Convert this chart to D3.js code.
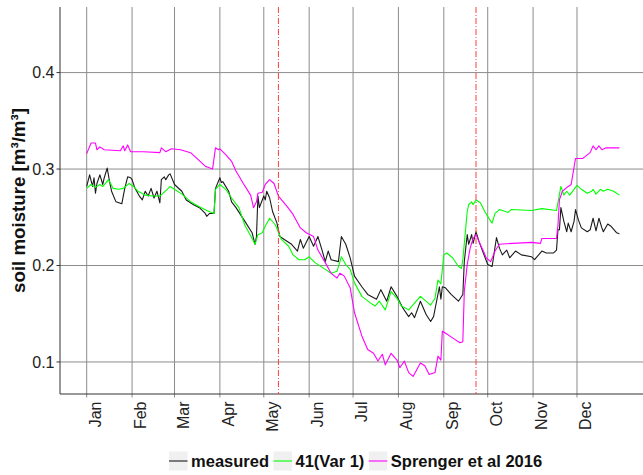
<!DOCTYPE html>
<html>
<head>
<meta charset="utf-8">
<script src="https://cdn.jsdelivr.net/npm/d3@7"></script>
<style>
    body { margin: 0; background: #fff; }
    svg { display: block; font-family: "Liberation Sans", Arial, sans-serif; }
    .grid line { stroke: #8c8c8c; stroke-width: 1; }
    .axis-line { stroke: #333; stroke-width: 1; }
    .tick-label { font-size: 16px; fill: #222; }
    .series { fill: none; stroke-width: 1.1; stroke-linejoin: round; }
    .marker { stroke: #ff3d3d; stroke-width: 1; stroke-dasharray: 6,2,1,2; }
    .legend text { font-size: 16.5px; font-weight: bold; fill: #111; }
</style>
</head>
<body>
<div id="chart"></div>
<script>
// labels / ticks
const monthLabels = ["Jan", "Feb", "Mar", "Apr", "May", "Jun", "Jul", "Aug", "Sep", "Oct", "Nov", "Dec"];
const yTicks = [0.1, 0.2, 0.3, 0.4];
const markerDates = ["2016-05-11", "2016-09-23"];
const seriesNames = ["measured", "41(Var 1)", "Sprenger et al 2016"];
const seriesColors = ["#1a1a1a", "#00ff00", "#ff00ff"];

// day of year (2016) + soil moisture
const measuredDays = [1,3,5,6,7,8,10,12,13,15, 17,18,21,25,27,29,31,32,34,37, 39,41,43,45,47,49,51,52,54,55,
    57,58,61,66,69,74,78,82,83,85, 88,89,92,93,94,98,100,103,109,114, 116,117,118,119,122,123,124,126,128,131,
    133,136,141,145,147,149,153,156,159,162, 164,166,168,173,175,178,181,184,189,193, 199,202,206,209,213,217,221,223,225,229,
    233,236,238,242,243,244,246,250,255,258, 259,261,262,264,265,267,269,272,275,278, 281,283,285,288,290,294,298,305,307,312,
    315,320,322,323,324,325,327,329,330,332, 334,335,337,339,343,345,347,349,351,353, 354,357,359,363,365];
const measured = [0.282,0.294,0.282,0.291,0.275,0.285,0.294,0.284,0.291,0.301, 0.284,0.277,0.266,0.264,0.280,0.292,0.291,0.289,0.280,0.272,
    0.268,0.277,0.272,0.280,0.270,0.277,0.265,0.289,0.292,0.289, 0.294,0.295,0.284,0.277,0.268,0.263,0.260,0.254,0.251,0.254,
    0.254,0.280,0.291,0.286,0.287,0.277,0.266,0.260,0.246,0.234, 0.222,0.230,0.272,0.260,0.272,0.268,0.277,0.270,0.256,0.244,
    0.230,0.227,0.222,0.215,0.227,0.218,0.230,0.220,0.230,0.215, 0.204,0.215,0.206,0.204,0.230,0.222,0.208,0.189,0.178,0.170,
    0.165,0.175,0.163,0.178,0.168,0.156,0.147,0.151,0.146,0.163, 0.149,0.142,0.147,0.178,0.165,0.178,0.177,0.170,0.163,0.170,
    0.204,0.232,0.222,0.232,0.223,0.235,0.225,0.213,0.201,0.199, 0.229,0.218,0.211,0.216,0.208,0.215,0.211,0.209,0.206,0.215,
    0.213,0.213,0.216,0.237,0.237,0.260,0.246,0.235,0.244,0.235, 0.246,0.258,0.247,0.239,0.235,0.237,0.249,0.236,0.249,0.239,
    0.235,0.243,0.241,0.234,0.233];

const var1Days = [1,4,7,10,12,16,19,23,26,30, 33,36,41,46,51,56,58,61,67,72, 78,83,88,89,92,96,100,105,109,114,
    116,118,121,123,126,130,134,139,142,146, 150,153,157,163,168,172,175,178,181,184, 189,195,198,201,205,209,213,216,221,229,
    236,239,241,243,245,247,251,255,257,258, 261,262,264,265,267,270,273,277,278,280, 283,289,291,305,312,322,325,327,329,331,
    336,339,343,346,347,349,352,354,357,361, 365];
const var1 = [0.280,0.284,0.281,0.284,0.282,0.289,0.280,0.279,0.280,0.285, 0.282,0.277,0.273,0.272,0.272,0.279,0.282,0.279,0.273,0.266,
    0.261,0.257,0.254,0.279,0.284,0.279,0.270,0.260,0.242,0.228, 0.222,0.232,0.234,0.241,0.249,0.242,0.227,0.220,0.211,0.206,
    0.206,0.209,0.203,0.197,0.192,0.194,0.209,0.201,0.196,0.182, 0.168,0.161,0.158,0.163,0.154,0.173,0.166,0.158,0.154,0.168,
    0.159,0.166,0.185,0.181,0.211,0.213,0.208,0.199,0.197,0.206, 0.256,0.263,0.266,0.263,0.268,0.265,0.256,0.246,0.244,0.254,
    0.258,0.255,0.258,0.257,0.259,0.257,0.282,0.273,0.277,0.273, 0.283,0.279,0.275,0.277,0.279,0.274,0.279,0.277,0.279,0.277,
    0.273];

const sprengerDays = [1,4,7,8,10,13,24,26,27,29, 31,40,51,52,55,59,65,72,77,82, 87,89,91,92,96,100,103,108,113,115,
    117,118,121,123,126,129,132,138,142,147, 151,156,159,164,168,172,174,177,181,184, 189,193,197,200,203,205,209,213,215,218,
    221,224,229,232,235,239,241,243,244,246, 251,256,258,259,261,263,265,267,269,272, 274,277,280,283,292,305,311,312,322,323,
    324,326,330,332,335,340,345,347,349,351, 353,356,365];
const sprenger = [0.316,0.327,0.327,0.320,0.323,0.320,0.319,0.324,0.319,0.325, 0.318,0.318,0.317,0.322,0.318,0.321,0.320,0.317,0.310,0.303,
    0.300,0.322,0.320,0.321,0.315,0.308,0.298,0.285,0.273,0.260, 0.266,0.275,0.276,0.284,0.289,0.285,0.272,0.261,0.253,0.239,
    0.234,0.230,0.216,0.203,0.192,0.187,0.192,0.189,0.177,0.151, 0.127,0.113,0.109,0.101,0.108,0.097,0.109,0.102,0.094,0.101,
    0.089,0.085,0.099,0.096,0.087,0.089,0.106,0.102,0.132,0.130, 0.125,0.120,0.121,0.173,0.201,0.218,0.228,0.232,0.225,0.215,
    0.208,0.204,0.215,0.222,0.223,0.224,0.223,0.228,0.228,0.242, 0.268,0.277,0.282,0.284,0.311,0.311,0.317,0.324,0.320,0.324,
    0.320,0.322,0.322];


class MoisturePlot {
    constructor(width, height) {
        this.width = width || 643;
        this.height = height || 475;
        this.panel = { left: 60, right: 643, top: 7, bottom: 394 };

        const DAY = 864e5;
        this.start = new Date(2016, 0, 1);
        // 5% expansion either side of the year, like ggplot
        this.xScale = d3.scaleTime()
            .domain([new Date(+this.start - 18.24 * DAY), new Date(+this.start + 380.1 * DAY)])
            .range([this.panel.left, this.panel.right]);
        this.yScale = d3.scaleLinear()
            .domain([0.0668, 0.468])
            .range([this.panel.bottom, this.panel.top]);

        this.months = d3.timeMonth.range(this.start, new Date(2017, 0, 1));

        const self = this;
        this.line = d3.line()
            .x(d => self.xScale(d.date))
            .y(d => self.yScale(d.value));

        this.series = [
            [measuredDays, measured],
            [var1Days, var1],
            [sprengerDays, sprenger]
        ].map(([days, vals], i) => ({
            name: seriesNames[i],
            color: seriesColors[i],
            points: days.map((doy, j) => ({ date: new Date(2016, 0, doy), value: vals[j] }))
        }));
    }

    renderSvg(id) {
        this.svg = d3.select(id).append("svg")
            .attr("width", this.width)
            .attr("height", this.height);
        this.svg.append("rect")
            .attr("width", this.width)
            .attr("height", this.height)
            .attr("fill", "#fff");
    }

    renderGrid() {
        const p = this.panel;
        const grid = this.svg.append("g").attr("class", "grid");
        grid.selectAll(".h").data(yTicks).enter().append("line")
            .attr("x1", p.left).attr("x2", p.right)
            .attr("y1", d => this.yScale(d)).attr("y2", d => this.yScale(d));
        grid.selectAll(".v").data(this.months).enter().append("line")
            .attr("y1", p.top).attr("y2", p.bottom + 3.5)
            .attr("x1", d => this.xScale(d)).attr("x2", d => this.xScale(d));
    }

    renderAxes() {
        const p = this.panel;
        this.svg.append("line").attr("class", "axis-line")
            .attr("x1", p.left).attr("x2", p.left).attr("y1", p.top).attr("y2", p.bottom);
        this.svg.append("line").attr("class", "axis-line")
            .attr("x1", p.left).attr("x2", p.right).attr("y1", p.bottom).attr("y2", p.bottom);

        // y ticks + labels
        this.svg.selectAll(".ytick").data(yTicks).enter().append("line")
            .attr("class", "axis-line")
            .attr("x1", p.left - 3.5).attr("x2", p.left)
            .attr("y1", d => this.yScale(d)).attr("y2", d => this.yScale(d));
        this.svg.selectAll(".ylab").data(yTicks).enter().append("text")
            .attr("class", "tick-label")
            .attr("x", p.left - 5.5)
            .attr("y", d => this.yScale(d))
            .attr("dy", "0.36em")
            .style("text-anchor", "end")
            .text(d => d3.format(".1f")(d));

        // month labels, rotated
        this.svg.selectAll(".xlab").data(this.months).enter().append("text")
            .attr("class", "tick-label")
            .attr("transform", d => "translate(" + (this.xScale(d) + 14) + "," + (p.bottom + 7.5) + ")rotate(-90)")
            .style("text-anchor", "end")
            .text((d, i) => monthLabels[i]);

        this.svg.append("text")
            .attr("transform", "translate(25," + ((p.top + p.bottom) / 2) + ")rotate(-90)")
            .style("text-anchor", "middle")
            .style("font-size", "18.7px")
            .style("font-weight", "bold")
            .attr("fill", "#111")
            .text("soil moisture [m³/m³]");
    }

    renderSeries() {
        this.svg.selectAll(".series").data(this.series).enter().append("path")
            .attr("class", "series")
            .attr("stroke", d => d.color)
            .attr("d", d => this.line(d.points));
    }

    renderMarkers() {
        const p = this.panel;
        const parse = d3.timeParse("%Y-%m-%d");
        this.svg.selectAll(".marker").data(markerDates).enter().append("line")
            .attr("class", "marker")
            .attr("x1", d => this.xScale(parse(d))).attr("x2", d => this.xScale(parse(d)))
            .attr("y1", p.top).attr("y2", p.bottom);
    }

    renderLegend() {
        const g = this.svg.append("g").attr("class", "legend");
        const items = g.selectAll("g").data(this.series).enter().append("g");
        items.append("rect")
            .attr("width", 18.5).attr("height", 19)
            .attr("y", -9.5)
            .attr("fill", "#f0f0f0");
        items.append("line")
            .attr("x1", 0).attr("x2", 18.5)
            .attr("stroke", d => d.color)
            .attr("stroke-width", 1.1);
        items.append("text")
            .attr("x", 22)
            .attr("dy", "0.36em")
            .text(d => d.name);

        let widths = [];
        items.select("text").each(function() { widths.push(this.getComputedTextLength()); });
        const total = d3.sum(widths, w => 22 + w) + 4.5 * (widths.length - 1);
        let x = 355.6 - total / 2;
        items.attr("transform", (d, i) => {
            const t = "translate(" + x + ",461)";
            x += 22 + widths[i] + 4.5;
            return t;
        });
    }

    render(id) {
        this.renderSvg(id);
        this.renderGrid();
        this.renderAxes();
        this.renderSeries();
        this.renderMarkers();
        this.renderLegend();
    }
}

const plot = new MoisturePlot(643, 475);
plot.render("#chart");
</script>
</body>
</html>
